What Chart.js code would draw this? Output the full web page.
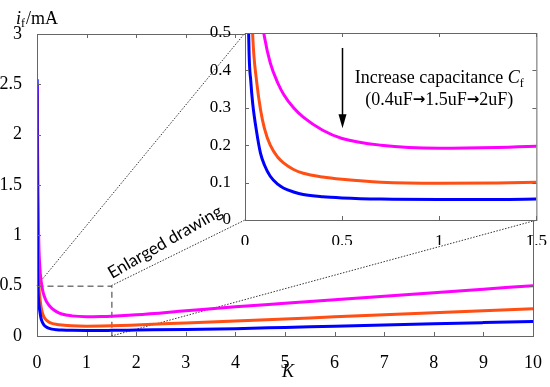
<!DOCTYPE html>
<html>
<head>
<meta charset="utf-8">
<script src="https://cdn.jsdelivr.net/npm/chart.js@4.4.1/dist/chart.umd.min.js"></script>
<style>
html, body { margin: 0; padding: 0; background: #fff; }
#wrap { position: relative; width: 550px; height: 387px; }
canvas { position: absolute; left: 0; top: 0; }
</style>
</head>
<body>
<div id="wrap">
  <canvas id="mainChart" width="550" height="387"></canvas>
  <canvas id="insetChart" width="550" height="387"></canvas>
</div>
<script>
// K values (x axis) shared by all three curves
const kValues = [0.003, 0.005, 0.01, 0.02, 0.03, 0.04, 0.06, 0.08, 0.1, 0.13, 0.17, 0.2, 0.25, 0.3, 0.4, 0.5, 0.7, 1, 1.3, 1.5, 2, 3, 4, 5, 6, 7, 8, 9, 10]

// i_f in mA for each capacitance
const current04uF = [2.5, 2.3, 2.0, 1.4, 1.05, 0.85, 0.66, 0.56, 0.49, 0.42, 0.365, 0.335, 0.3, 0.275, 0.24, 0.218, 0.2, 0.192, 0.194, 0.197, 0.21, 0.25, 0.29, 0.325, 0.36, 0.395, 0.43, 0.465, 0.5]
const current15uF = [2.4, 2.0, 1.5, 0.95, 0.66, 0.49, 0.37, 0.295, 0.245, 0.2, 0.167, 0.152, 0.135, 0.125, 0.115, 0.109, 0.101, 0.098, 0.099, 0.101, 0.11, 0.13, 0.15, 0.17, 0.19, 0.21, 0.23, 0.25, 0.27]
const current2uF = [2.55, 1.7, 0.9, 0.47, 0.37, 0.31, 0.235, 0.178, 0.147, 0.117, 0.095, 0.085, 0.075, 0.068, 0.062, 0.059, 0.056, 0.055, 0.055, 0.056, 0.059, 0.065, 0.073, 0.085, 0.097, 0.109, 0.121, 0.133, 0.145]

const seriesColors = ['#0000ff', '#ff4f14', '#ff00ff']

// zoomed region shown in the inset
const zoomK = [0, 1.5]
const zoomI = [0, 0.5]

// inset frame on the page
const inset = { left: 245, top: 33, right: 537, bottom: 220 }

const serif = '"Liberation Serif", "Times New Roman", serif'
Chart.defaults.font.family = serif
Chart.defaults.color = '#000'

const toPoints = ys => kValues.map((k, i) => ({ x: k, y: ys[i] }))
const fmt = v => String(Number(v.toFixed(2)))

const makeDatasets = () => [current2uF, current15uF, current04uF].map((ys, i) => ({
    data: toPoints(ys),
    borderColor: seriesColors[i],
    borderWidth: 3,
    pointRadius: 0,
    cubicInterpolationMode: 'monotone',
    fill: false
}))

// box with inward ticks, matlab style
const drawBox = (chart, len) => {
    const { ctx, chartArea: a, scales: { x, y } } = chart
    ctx.save()
    ctx.strokeStyle = '#666'
    ctx.lineWidth = 1
    ctx.strokeRect(a.left + 0.5, a.top + 0.5, a.right - a.left, a.bottom - a.top)
    ctx.beginPath()
    x.ticks.forEach(t => {
        const px = Math.round(x.getPixelForValue(t.value)) + 0.5
        ctx.moveTo(px, a.bottom); ctx.lineTo(px, a.bottom - len)
        ctx.moveTo(px, a.top); ctx.lineTo(px, a.top + len)
    })
    y.ticks.forEach(t => {
        const py = Math.round(y.getPixelForValue(t.value)) + 0.5
        ctx.moveTo(a.left, py); ctx.lineTo(a.left + len, py)
        ctx.moveTo(a.right, py); ctx.lineTo(a.right - len, py)
    })
    ctx.stroke()
    ctx.restore()
}

const mainDecor = {
    id: 'mainDecor',
    beforeDatasetsDraw(chart) {
        const { ctx, scales: { x, y } } = chart
        const x0 = x.getPixelForValue(zoomK[0]), x1 = x.getPixelForValue(zoomK[1])
        const y0 = y.getPixelForValue(zoomI[0]), y1 = y.getPixelForValue(zoomI[1])
        ctx.save()
        ctx.strokeStyle = '#333'
        ctx.lineWidth = 1
        ctx.setLineDash([6, 4])
        ctx.strokeRect(x0 + 0.5, y1 + 0.5, x1 - x0, y0 - y1)
        ctx.setLineDash([1.5, 1.5])
        ctx.beginPath()
        ctx.moveTo(x0, y1); ctx.lineTo(inset.left, inset.top)
        ctx.moveTo(x1, y1); ctx.lineTo(inset.left, inset.bottom)
        ctx.moveTo(x1, y0); ctx.lineTo(inset.right, inset.bottom)
        ctx.stroke()
        ctx.setLineDash([])
        // label along the connector
        ctx.translate(112, 279)
        ctx.rotate(-30 * Math.PI / 180)
        ctx.font = '17px Lato, "Open Sans", sans-serif'
        ctx.fillStyle = '#000'
        ctx.textBaseline = 'alphabetic'
        ctx.fillText('Enlarged drawing', 0, 0)
        ctx.restore()
    },
    afterDraw(chart) {
        drawBox(chart, 4)
        const { ctx } = chart
        ctx.save()
        ctx.fillStyle = '#000'
        ctx.textBaseline = 'alphabetic'
        ctx.font = 'italic 18px ' + serif
        ctx.fillText('i', 16, 24)
        ctx.font = '12px ' + serif
        ctx.fillText('f', 21, 27)
        ctx.font = '18px ' + serif
        ctx.fillText('/mA', 26, 24)
        ctx.font = 'italic 18px ' + serif
        ctx.textAlign = 'center'
        ctx.fillText('K', 288, 377)
        ctx.restore()
    }
}

new Chart('mainChart', {
    type: 'line',
    data: { datasets: makeDatasets() },
    options: {
        responsive: false,
        animation: false,
        devicePixelRatio: 1,
        layout: { padding: { top: 34, right: 13, left: 0, bottom: 0 } },
        plugins: { legend: { display: false }, tooltip: { enabled: false } },
        scales: {
            x: {
                type: 'linear', min: 0, max: 10,
                ticks: { stepSize: 1, padding: 8, font: { family: serif, size: 18 }, callback: fmt },
                grid: { display: false }, border: { display: false },
                afterFit: s => { s.height = 51 }
            },
            y: {
                min: 0, max: 3,
                ticks: { stepSize: 0.5, padding: 7, font: { family: serif, size: 18 }, callback: fmt },
                grid: { display: false }, border: { display: false },
                afterFit: s => { s.width = 37 }
            }
        }
    },
    plugins: [mainDecor]
})

// arrow and note inside the inset (data coordinates)
const arrowK = 0.5
const arrowI = [0.46, 0.245]
const noteK = 1.0
const noteI = [0.366, 0.307]

const insetDecor = {
    id: 'insetDecor',
    beforeDraw(chart) {
        const { ctx, chartArea: a } = chart
        ctx.save()
        ctx.fillStyle = '#fff'
        ctx.fillRect(a.left, a.top, a.right - a.left, a.bottom - a.top)
        ctx.restore()
    },
    afterDraw(chart) {
        drawBox(chart, 4)
        const { ctx, scales: { x, y } } = chart
        ctx.save()
        const ax = Math.round(x.getPixelForValue(arrowK)) + 0.5
        const ay0 = y.getPixelForValue(arrowI[0]), ay1 = y.getPixelForValue(arrowI[1])
        ctx.strokeStyle = '#000'
        ctx.lineWidth = 1.5
        ctx.beginPath()
        ctx.moveTo(ax, ay0); ctx.lineTo(ax, ay1 - 10)
        ctx.stroke()
        ctx.fillStyle = '#000'
        ctx.beginPath()
        ctx.moveTo(ax - 4, ay1 - 14); ctx.lineTo(ax + 4, ay1 - 14); ctx.lineTo(ax, ay1)
        ctx.closePath(); ctx.fill()

        const cx = x.getPixelForValue(noteK)
        const b1 = y.getPixelForValue(noteI[0]), b2 = y.getPixelForValue(noteI[1])
        ctx.textBaseline = 'alphabetic'
        ctx.font = '18px ' + serif
        const t1 = 'Increase capacitance '
        const w1 = ctx.measureText(t1).width
        ctx.font = 'italic 18px ' + serif
        const wc = ctx.measureText('C').width
        ctx.font = '12px ' + serif
        const wf = ctx.measureText('f').width
        let sx = cx - (w1 + wc + wf) / 2
        ctx.font = '18px ' + serif
        ctx.fillText(t1, sx, b1)
        ctx.font = 'italic 18px ' + serif
        ctx.fillText('C', sx + w1, b1)
        ctx.font = '12px ' + serif
        ctx.fillText('f', sx + w1 + wc, b1 + 4)

        // second line, arrows drawn in a bolder face
        const parts = [['(0.4uF', 0], ['\u2192', 1], ['1.5uF', 0], ['\u2192', 1], ['2uF)', 0]]
        const fontOf = p => p[1] ? 'bold 15px "DejaVu Sans", sans-serif' : '18px ' + serif
        const widths = parts.map(p => { ctx.font = fontOf(p); return ctx.measureText(p[0]).width })
        let px = cx - widths.reduce((s, w) => s + w, 0) / 2
        parts.forEach((p, i) => {
            ctx.font = fontOf(p)
            ctx.fillText(p[0], px, p[1] ? b2 - 1 : b2)
            px += widths[i]
        })
        ctx.restore()
    }
}

new Chart('insetChart', {
    type: 'line',
    data: { datasets: makeDatasets() },
    options: {
        responsive: false,
        animation: false,
        devicePixelRatio: 1,
        layout: { padding: { top: inset.top, right: 550 - inset.right, left: inset.left - 45, bottom: 387 - inset.bottom - 25 } },
        plugins: { legend: { display: false }, tooltip: { enabled: false } },
        scales: {
            x: {
                type: 'linear', min: zoomK[0], max: zoomK[1],
                ticks: { stepSize: 0.5, padding: 3, font: { family: serif, size: 17 }, callback: fmt },
                grid: { display: false }, border: { display: false },
                afterFit: s => { s.height = 25 }
            },
            y: {
                min: zoomI[0], max: zoomI[1],
                ticks: { stepSize: 0.1, padding: 6, font: { family: serif, size: 17 }, callback: fmt },
                grid: { display: false }, border: { display: false },
                afterFit: s => { s.width = 45 }
            }
        }
    },
    plugins: [insetDecor]
})
</script>
</body>
</html>
